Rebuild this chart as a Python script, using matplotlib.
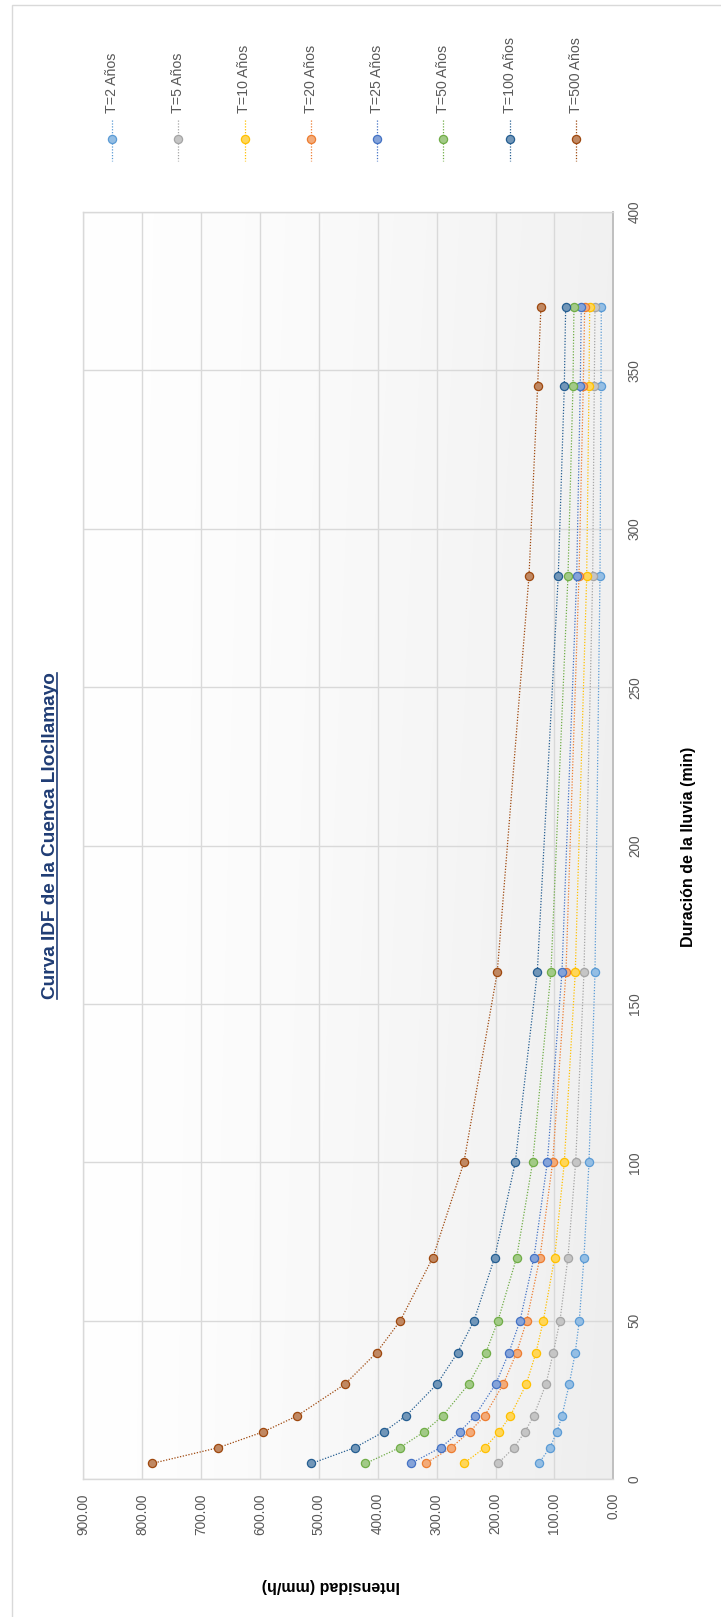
import matplotlib

matplotlib.use("Agg")
import matplotlib.pyplot as plt
import numpy as np
from matplotlib import font_manager
from matplotlib.lines import Line2D
from matplotlib.patches import Rectangle
from matplotlib.ticker import FormatStrFormatter, MultipleLocator

# duracion de la lluvia (min)
durations = [5, 10, 15, 20, 30, 40, 50, 70, 100, 160, 285, 345, 370]

# intensidad (mm/h) para cada periodo de retorno
t2 = [126.8, 107.6, 95.7, 87.2, 74.8, 64.6, 57.8, 49.8, 41.3, 31.1, 22.6, 20.9, 20.4]
t5 = [195.9, 168.7, 150.0, 135.3, 114.4, 101.9, 90.6, 77.0, 63.9, 49.8, 35.0, 32.3, 31.1]
t10 = [254.3, 218.0, 193.7, 175.0, 147.8, 131.3, 118.9, 99.6, 83.2, 64.6, 45.2, 41.3, 40.1]
t20 = [318.8, 275.3, 244.0, 218.6, 186.9, 164.2, 147.2, 124.6, 103.0, 80.4, 58.3, 51.0, 48.6]
t25 = [343.8, 293.3, 260.5, 235.0, 199.9, 177.2, 158.5, 134.7, 112.1, 87.2, 62.2, 56.1, 54.4]
t50 = [420.8, 362.4, 321.1, 289.9, 245.8, 216.3, 195.9, 164.2, 137.0, 105.9, 77.0, 68.5, 66.8]
t100 = [512.5, 438.9, 389.6, 352.3, 299.6, 264.4, 236.7, 201.5, 166.5, 129.1, 93.5, 83.2, 80.9]
t500 = [783.3, 670.5, 594.1, 537.0, 455.9, 402.0, 361.9, 306.4, 253.7, 197.1, 143.2, 128.5, 122.9]

series = [t2, t5, t10, t20, t25, t50, t100, t500]
labels = ["T=2 Años", "T=5 Años", "T=10 Años", "T=20 Años",
          "T=25 Años", "T=50 Años", "T=100 Años", "T=500 Años"]
colors = ["#5B9BD5", "#A5A5A5", "#FFC000", "#ED7D31",
          "#4472C4", "#70AD47", "#255E91", "#9E480E"]

W, H = 721, 1617
GRID = "#D9D9D9"
TICK = "#595959"

names = {f.name for f in font_manager.fontManager.ttflist}
base_font = "Liberation Sans" if "Liberation Sans" in names else "DejaVu Sans"
narrow_font = "Liberation Sans Narrow" if "Liberation Sans Narrow" in names else base_font
plt.rcParams["font.family"] = [base_font, "DejaVu Sans"]


def fx(px):
    return px / W


def fy(py):
    return 1 - py / H


def lighter(c, k=0.35):
    rgb = np.array(matplotlib.colors.to_rgb(c))
    return tuple(rgb * (1 - k) + k)


def fit_length(text, target_px, renderer):
    bb = text.get_window_extent(renderer)
    length = max(bb.width, bb.height)
    text.set_fontsize(text.get_fontsize() * target_px / length)


fig = plt.figure(figsize=(W / 100, H / 100), dpi=100)
fig.patch.set_facecolor("white")

# chart border (the screenshot crops right/bottom)
fig.patches.append(Rectangle((fx(12), -0.01), 1.0, fy(5) + 0.01,
                             transform=fig.transFigure, fill=False,
                             ec=GRID, lw=1.0))

ax = fig.add_axes([fx(83.3), fy(1479.3), (613.3 - 83.3) / W, (1479.3 - 212) / H])

# plot area gradient
u = np.linspace(0, 1, 200)[None, :]
v = np.linspace(0, 1, 400)[:, None]
g = 1 - 0.055 * u ** 1.3 - 0.012 * (1 - v) * u
img = np.dstack([g, g, g])
ax.imshow(img, extent=[0, 1, 0, 1], transform=ax.transAxes, origin="lower",
          aspect="auto", zorder=0, interpolation="bilinear")

for vals, lab, c in zip(series, labels, colors):
    ax.plot(vals, durations, linestyle=(0, (1, 1.3)), lw=0.9, color=c,
            marker="o", ms=5.9, mfc=lighter(c), mec=c, mew=0.9,
            label=lab, zorder=3)

ax.set_xlim(900, 0)
ax.set_ylim(0, 400)
ax.xaxis.set_major_locator(MultipleLocator(100))
ax.xaxis.set_major_formatter(FormatStrFormatter("%.2f"))
ax.yaxis.set_major_locator(MultipleLocator(50))
ax.yaxis.tick_right()
ax.grid(True, color=GRID, lw=1.0, zorder=1)
ax.set_axisbelow(True)
for side in ["left", "top", "bottom"]:
    ax.spines[side].set_color(GRID)
    ax.spines[side].set_linewidth(1.0)
ax.spines["right"].set_color("#BFBFBF")
ax.spines["right"].set_linewidth(1.4)

ax.tick_params(axis="x", length=0, pad=10, labelsize=9.8, labelcolor=TICK,
               labelrotation=90)
ax.tick_params(axis="y", length=0, pad=10.5, labelsize=9.8, labelcolor=TICK,
               labelrotation=90)
for lab in ax.get_yticklabels():
    lab.set_va("center")

# title and axis titles, rotated like the source
title = fig.text(fx(55), fy(836), "Curva IDF de la Cuenca Llocllamayo",
                 rotation=90, rotation_mode="anchor", ha="center", va="baseline",
                 family=[narrow_font, "DejaVu Sans"], fontweight="bold",
                 color="#1F3C74", fontsize=14)
xlab = fig.text(fx(331), fy(1585), "Intensidad (mm/h)", rotation=180,
                ha="center", va="center", family=[narrow_font, "DejaVu Sans"],
                fontweight="bold", color="black", fontsize=11)
ylab = fig.text(fx(689), fy(847), "Duración de la lluvia (min)", rotation=90,
                ha="center", va="center", family=[narrow_font, "DejaVu Sans"],
                fontweight="bold", color="black", fontsize=11)

# legend, drawn vertically
for k, (lab, c) in enumerate(zip(labels, colors)):
    x = fx(111.9 + 66.3 * k)
    fig.add_artist(Line2D([x, x], [fy(120), fy(160.7)], transform=fig.transFigure,
                          color=c, lw=0.9, linestyle=(0, (1, 1.3))))
    fig.add_artist(Line2D([x], [fy(139.3)], transform=fig.transFigure,
                          marker="o", ms=5.9, mfc=lighter(c), mec=c, mew=0.9,
                          linestyle="none"))
    fig.text(x, fy(113.3), lab, rotation=90, ha="center", va="bottom",
             fontsize=10.2, color=TICK)

fig.canvas.draw()
renderer = fig.canvas.get_renderer()
fit_length(title, 328, renderer)
fit_length(xlab, 138, renderer)
fit_length(ylab, 201, renderer)
fig.canvas.draw()

# underline of the title (vertical, right of the baseline)
bb = title.get_window_extent(renderer)
fig.add_artist(Line2D([fx(57.2), fx(57.2)], [bb.y0 / H, bb.y1 / H],
                      transform=fig.transFigure, color="#1F3C74", lw=1.2))

fig.savefig("out.png", dpi=100)
